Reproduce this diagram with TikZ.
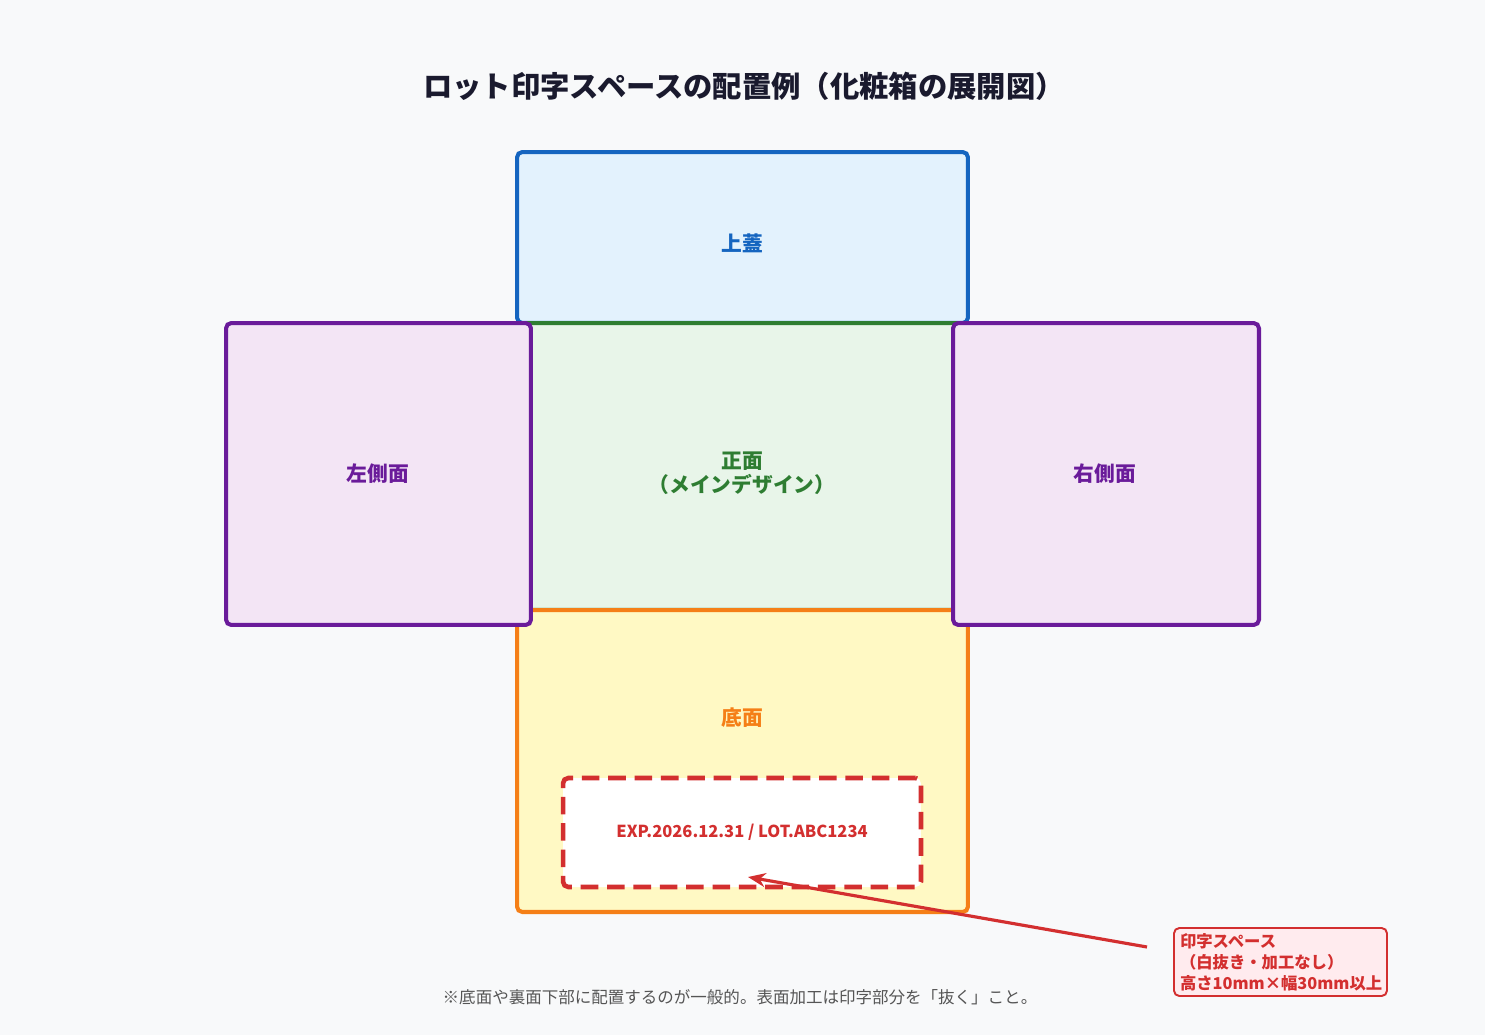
\documentclass[tikz,border=0pt]{standalone}
\usepackage{fontspec}
\setmainfont{Noto Sans CJK JP}
\usetikzlibrary{arrows.meta}
\definecolor{bgcol}{HTML}{F8F9FA}
\definecolor{titlecol}{HTML}{1A1A2E}
\definecolor{lidline}{HTML}{1565C0}
\definecolor{lidfill}{HTML}{E3F2FD}
\definecolor{frontline}{HTML}{2E7D32}
\definecolor{frontfill}{HTML}{E8F5E9}
\definecolor{sideline}{HTML}{6A1B9A}
\definecolor{sidefill}{HTML}{F3E5F5}
\definecolor{bottomline}{HTML}{F57F17}
\definecolor{bottomfill}{HTML}{FFF9C4}
\definecolor{lotred}{HTML}{D32F2F}
\definecolor{calloutfill}{HTML}{FFEBEE}
\definecolor{notecol}{HTML}{555555}
\tikzset{
  panel/.style={draw, rounded corners=3pt, line width=2.3pt, inner sep=0pt},
  panellabel/.style={align=center, font=\bfseries\fontsize{11.8}{13.5}\selectfont},
}
\begin{document}
\begin{tikzpicture}[x=0.02cm, y=-0.02cm]

		\fill[bgcol] (0,0) rectangle (1485,1035);
		\useasboundingbox (0,0) rectangle (1485,1035);

		\node[font=\bfseries\fontsize{16.7}{19}\selectfont, text=titlecol] (title) at (744,86){ロット印字スペースの配置例（化粧箱の展開図）};

		%%%%% Panels %%%%%%
		\node[panel, draw=lidline, fill=lidfill, minimum width=9.02cm, minimum height=3.42cm] (lid) at (742.5,237.5){};
		\node[panel, draw=frontline, fill=frontfill, minimum width=9.02cm, minimum height=5.74cm] (front) at (742.5,466.5){};
		\node[panel, draw=bottomline, fill=bottomfill, minimum width=9.02cm, minimum height=6.04cm] (bottom) at (742.5,761){};
		\node[panel, draw=sideline, fill=sidefill, minimum width=6.1cm, minimum height=6.04cm] (leftside) at (378.5,474){};
		\node[panel, draw=sideline, fill=sidefill, minimum width=6.12cm, minimum height=6.04cm] (rightside) at (1106,474){};

		\node[panellabel, text=lidline] (lidlabel) at (742,243){上蓋};
		\node[panellabel, text=frontline] (frontlabel) at (742,473){正面\\（メインデザイン）};
		\node[panellabel, text=bottomline] (bottomlabel) at (742,718){底面};
		\node[panellabel, text=sideline] (leftlabel) at (378,474){左側面};
		\node[panellabel, text=sideline] (rightlabel) at (1105,474){右側面};

		%%%%% Lot space %%%%%%
		\node[draw=lotred, fill=white, line width=2.6pt, dash pattern=on 10pt off 5pt, rounded corners=3pt,
		  minimum width=7.16cm, minimum height=2.18cm, text=lotred, font=\bfseries\fontsize{9.4}{11}\selectfont] (lotspace) at (742,832.5){EXP.2026.12.31 / LOT.ABC1234};

		\node[draw=lotred, fill=calloutfill, line width=1.1pt, rounded corners=3pt, inner xsep=0.12cm, inner ysep=0pt,
		  text width=4.02cm, minimum height=1.36cm, text=lotred, align=left,
		  font=\bfseries\fontsize{9.3}{11.9}\selectfont] (callout) at (1280.5,962){印字スペース\\（白抜き・加工なし）\\高さ10mm×幅30mm以上};

		%%%%% Arrow %%%%%%
		\coordinate (arrowstart) at (1147,947);
		\coordinate (arrowtip) at (748,877);
		\draw[-{Stealth[length=10pt,width=8pt]}, lotred, line width=1.8pt] (arrowstart)--(arrowtip);

		\node[text=notecol, font=\fontsize{9.4}{11}\selectfont] (note) at (740,997){※底面や裏面下部に配置するのが一般的。表面加工は印字部分を「抜く」こと。};

\end{tikzpicture}
\end{document}
